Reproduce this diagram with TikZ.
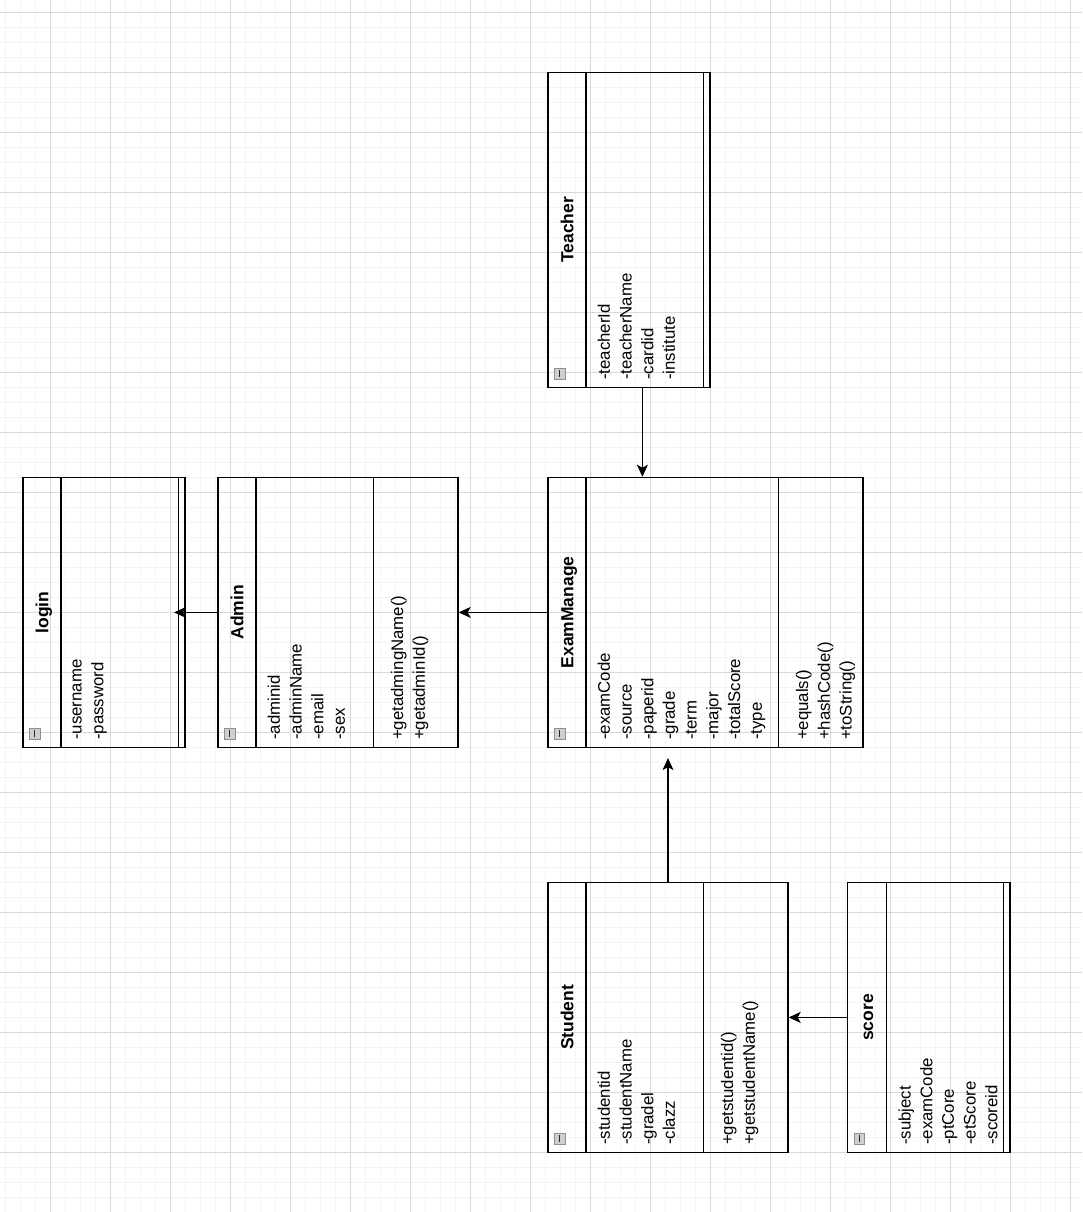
\documentclass[tikz,border=0pt]{standalone}
\usepackage{fontspec}
\setmainfont{Liberation Sans}
\usetikzlibrary{arrows.meta, positioning, calc}
\definecolor{gridminor}{HTML}{F4F4F4}
\definecolor{gridmajor}{HTML}{D9D9D9}
\definecolor{iconfill}{HTML}{CFCFCF}
\definecolor{iconedge}{HTML}{8F8F8F}
\tikzset{
  umlbox/.style={rectangle, draw=black, line width=1.4pt, inner sep=0,
                 anchor=north west},
  umldiv/.style={draw=black, line width=1.4pt},
  umlname/.style={rotate=90, anchor=base, inner sep=0,
                  font=\fontsize{17.5}{21}\selectfont\bfseries},
  umlattr/.style={rotate=90, anchor=north west, inner sep=0, align=left,
                  font=\fontsize{16.8}{21.7}\selectfont,
                  execute at begin node=\strut},
  umlicon/.style={rectangle, draw=iconedge, fill=iconfill, line width=0.9pt,
                  minimum size=10.5pt, inner sep=0,
                  path picture={\draw[black!85, line width=1.5pt]
                    ([yshift=-2pt]path picture bounding box.north) --
                    ([yshift=2pt]path picture bounding box.south);}},
  gridthin/.style={draw=gridminor, line width=0.9pt},
  gridthick/.style={draw=gridmajor, line width=0.9pt},
  assoc/.style={-{Stealth[length=12pt, width=11pt, inset=3pt]}, line width=1.2pt},
}
\begin{document}
\begin{tikzpicture}[x=1pt, y=-1pt]

  % --- page and grid ---
  \useasboundingbox (0,0) rectangle (1082,1212);
  \fill[white] (0,0) rectangle (1082,1212);
  \foreach \gx in {5.7,20.7,...,1082} \draw[gridthin] (\gx,0) -- (\gx,1212);
  \foreach \gy in {12.3,27.3,...,1212} \draw[gridthin] (0,\gy) -- (1082,\gy);
  \foreach \gx in {50.7,110.7,...,1082} \draw[gridthick] (\gx,0) -- (\gx,1212);
  \foreach \gy in {12.3,72.3,...,1212} \draw[gridthick] (0,\gy) -- (1082,\gy);

  % --- Teacher ---
  \node[umlbox, minimum width=162pt, minimum height=315pt] (teacher) at (547.3,71.7) {};
  \draw[umldiv] ([xshift=38.7pt]teacher.north west) -- ([xshift=38.7pt]teacher.south west);
  \draw[umldiv] ([xshift=156pt]teacher.north west) -- ([xshift=156pt]teacher.south west);
  \node[umlname] (teachername) at ([xshift=26pt]teacher.west) {Teacher};
  \node[umlattr] (teacherattr) at ([xshift=50.2pt, yshift=8pt]teacher.south west)
       {-teacherId\\-teacherName\\-cardid\\-institute};
  \node[umlicon] (teachericon) at ([xshift=12.4pt, yshift=14.4pt]teacher.south west) {};

  % --- login ---
  \node[umlbox, minimum width=162pt, minimum height=270pt] (login) at (22.3,476.7) {};
  \draw[umldiv] ([xshift=38.7pt]login.north west) -- ([xshift=38.7pt]login.south west);
  \draw[umldiv] ([xshift=156pt]login.north west) -- ([xshift=156pt]login.south west);
  \node[umlname] (loginname) at ([xshift=26pt]login.west) {login};
  \node[umlattr] (loginattr) at ([xshift=50.2pt, yshift=8pt]login.south west)
       {-username\\-password};
  \node[umlicon] (loginicon) at ([xshift=12.4pt, yshift=14.4pt]login.south west) {};

  % --- Admin ---
  \node[umlbox, minimum width=240pt, minimum height=270pt] (admin) at (217.3,476.7) {};
  \draw[umldiv] ([xshift=38.7pt]admin.north west) -- ([xshift=38.7pt]admin.south west);
  \draw[umldiv] ([xshift=156pt]admin.north west) -- ([xshift=156pt]admin.south west);
  \node[umlname] (adminname) at ([xshift=26pt]admin.west) {Admin};
  \node[umlattr] (adminattr) at ([xshift=50.2pt, yshift=8pt]admin.south west)
       {-adminid\\-adminName\\-email\\-sex};
  \node[umlattr] (adminops) at ([xshift=173.5pt, yshift=8pt]admin.south west)
       {+getadmingName()\\+getadminId()};
  \node[umlicon] (adminicon) at ([xshift=12.4pt, yshift=14.4pt]admin.south west) {};

  % --- ExamManage ---
  \node[umlbox, minimum width=315pt, minimum height=270pt] (exam) at (547.3,476.7) {};
  \draw[umldiv] ([xshift=38.7pt]exam.north west) -- ([xshift=38.7pt]exam.south west);
  \draw[umldiv] ([xshift=231pt]exam.north west) -- ([xshift=231pt]exam.south west);
  \node[umlname] (examname) at ([xshift=26pt]exam.west) {ExamManage};
  \node[umlattr] (examattr) at ([xshift=50.2pt, yshift=8pt]exam.south west)
       {-examCode\\-source\\-paperid\\-grade\\-term\\-major\\-totalScore\\-type};
  \node[umlattr] (examops) at ([xshift=248.5pt, yshift=8pt]exam.south west)
       {+equals()\\+hashCode()\\+toString()};
  \node[umlicon] (examicon) at ([xshift=12.4pt, yshift=14.4pt]exam.south west) {};

  % --- Student ---
  \node[umlbox, minimum width=240pt, minimum height=270pt] (student) at (547.3,881.7) {};
  \draw[umldiv] ([xshift=38.7pt]student.north west) -- ([xshift=38.7pt]student.south west);
  \draw[umldiv] ([xshift=156pt]student.north west) -- ([xshift=156pt]student.south west);
  \node[umlname] (studentname) at ([xshift=26pt]student.west) {Student};
  \node[umlattr] (studentattr) at ([xshift=50.2pt, yshift=8pt]student.south west)
       {-studentid\\-studentName\\-gradel\\-clazz};
  \node[umlattr] (studentops) at ([xshift=173.5pt, yshift=8pt]student.south west)
       {+getstudentid()\\+getstudentName()};
  \node[umlicon] (studenticon) at ([xshift=12.4pt, yshift=14.4pt]student.south west) {};

  % --- score ---
  \node[umlbox, minimum width=162.3pt, minimum height=270pt] (score) at (847,881.7) {};
  \draw[umldiv] ([xshift=39.7pt]score.north west) -- ([xshift=39.7pt]score.south west);
  \draw[umldiv] ([xshift=156.3pt]score.north west) -- ([xshift=156.3pt]score.south west);
  \node[umlname] (scorename) at ([xshift=26pt]score.west) {score};
  \node[umlattr] (scoreattr) at ([xshift=51.2pt, yshift=8pt]score.south west)
       {-subject\\-examCode\\-ptCore\\-etScore\\-scoreid};
  \node[umlicon] (scoreicon) at ([xshift=12.4pt, yshift=14.4pt]score.south west) {};

  % --- associations ---
  \draw[assoc] ($(teacher.south)+(13.4,0)$) -- ($(teacher.south |- exam.north)+(13.4,0)$);
  \draw[assoc] (exam.west) -- (admin.east);
  \draw[assoc] (admin.west) -- ([xshift=-11.6pt]login.east);
  \draw[assoc] (student.north) -- ($(student.north |- exam.south)+(0,10)$);
  \draw[assoc] (score.west) -- (student.east);

\end{tikzpicture}
\end{document}
